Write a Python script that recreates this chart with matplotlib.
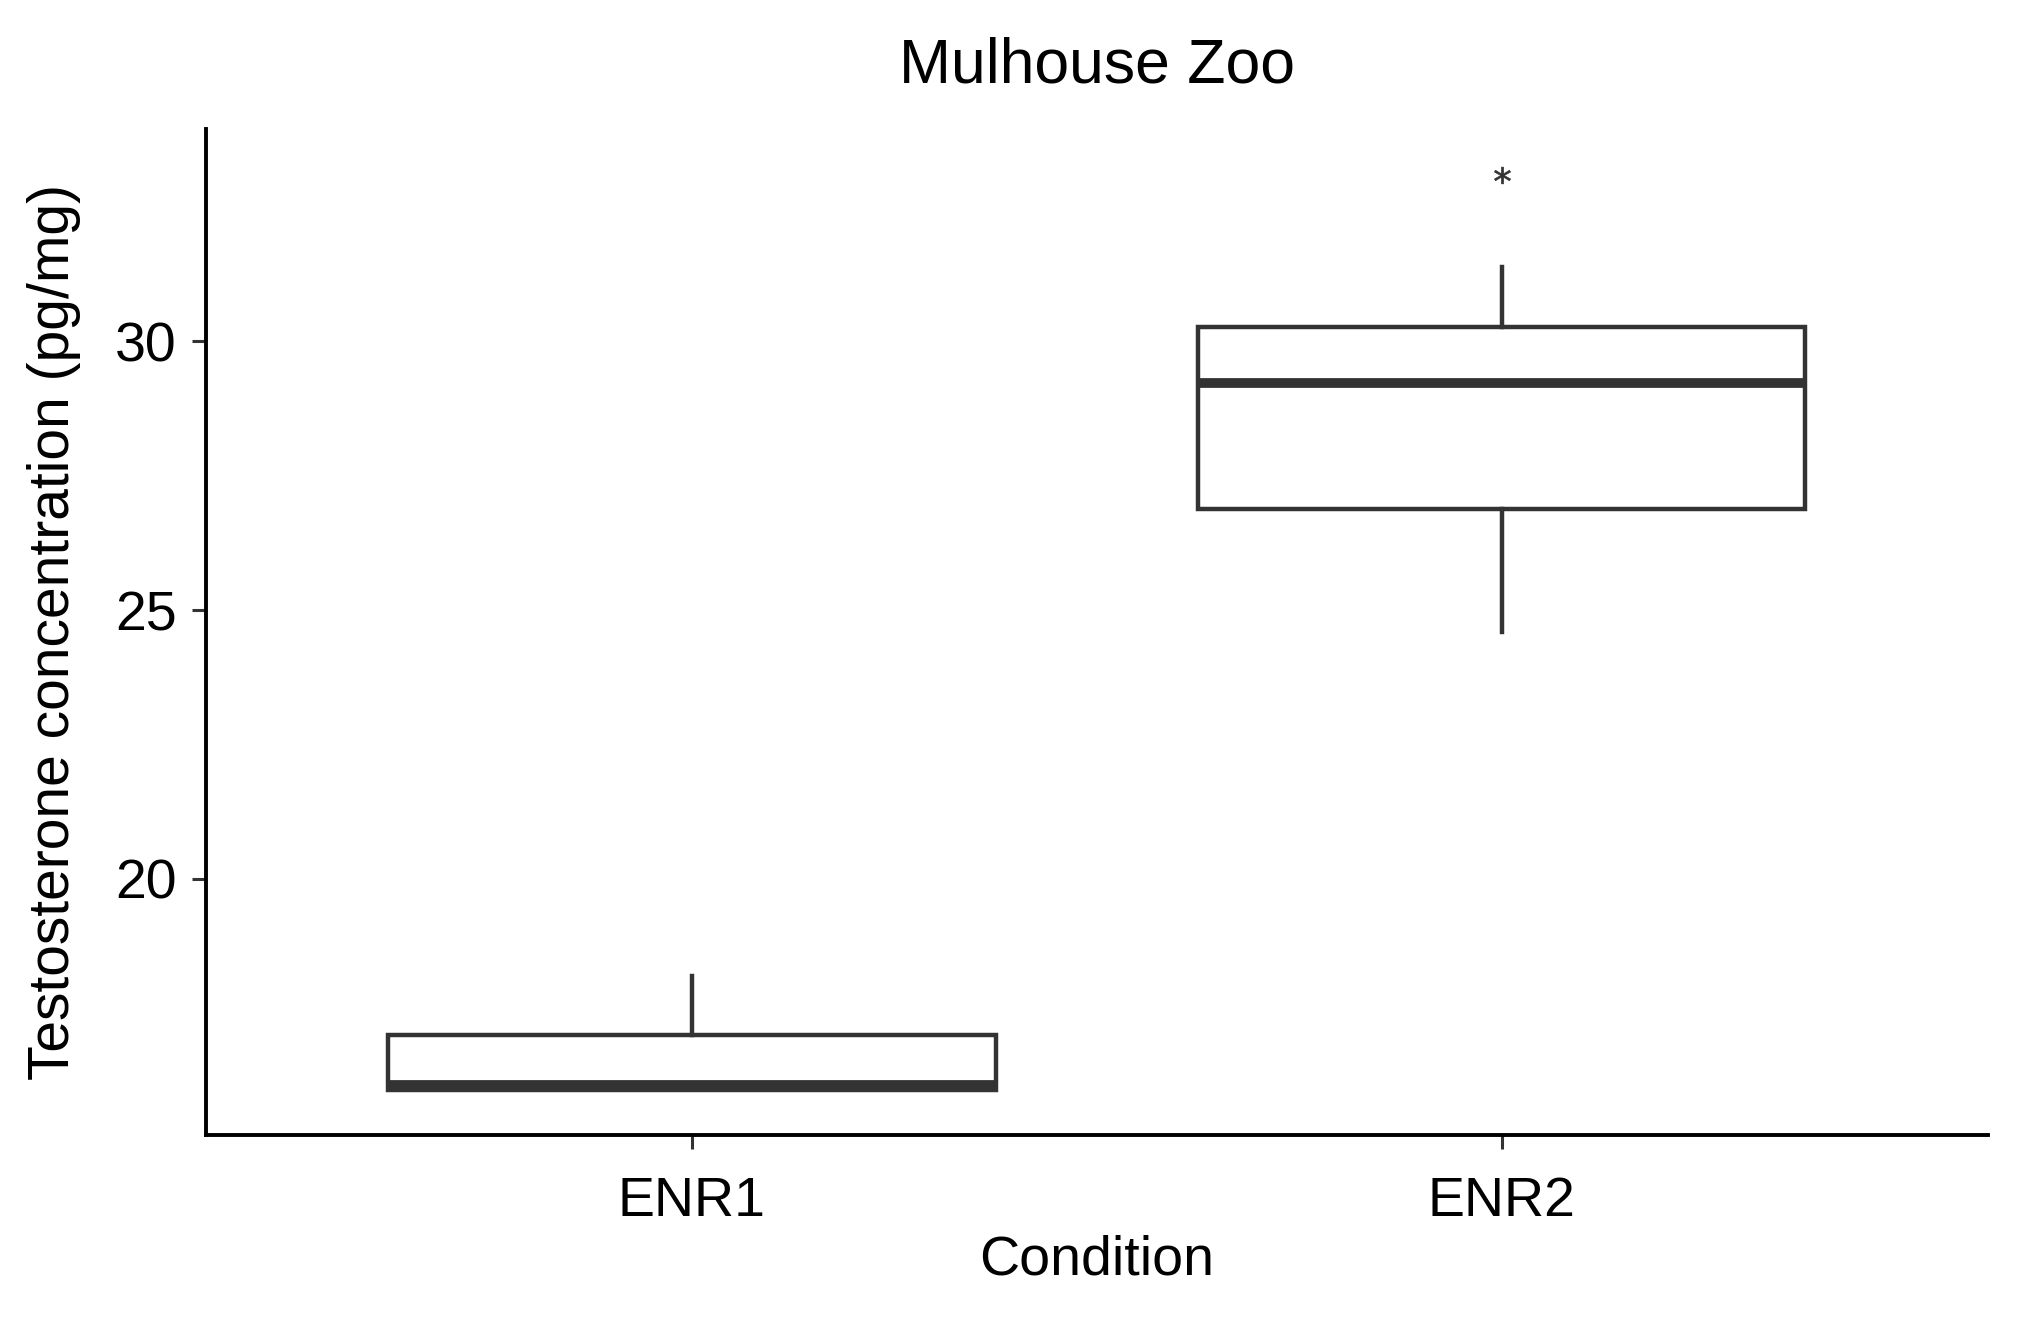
import matplotlib
matplotlib.use("Agg")
import matplotlib.pyplot as plt

# box summary values (pg/mg)
conditions = ["ENR1", "ENR2"]
lower_whisker = [16.08, 24.59]
lower_quartile = [16.08, 26.88]
medians = [16.17, 29.23]
upper_quartile = [17.10, 30.26]
upper_whisker = [18.20, 31.39]
outliers = [[], [33.10]]
y_ticks = [20, 25, 30]

BOX_COLOR = "#333333"

plt.rcParams["font.family"] = ["Liberation Sans", "DejaVu Sans"]

stats = []
for i, name in enumerate(conditions):
    stats.append({
        "label": name,
        "whislo": lower_whisker[i],
        "q1": lower_quartile[i],
        "med": medians[i],
        "q3": upper_quartile[i],
        "whishi": upper_whisker[i],
        "fliers": outliers[i],
    })

fig = plt.figure(figsize=(20.18, 13.17), dpi=100)
ax = fig.add_axes([0.102, 0.138, 0.883, 0.764])

line_w = 3.2
ax.bxp(
    stats,
    positions=[1, 2],
    widths=0.75,
    showcaps=False,
    patch_artist=True,
    boxprops={"facecolor": "white", "edgecolor": BOX_COLOR, "linewidth": line_w},
    whiskerprops={"color": BOX_COLOR, "linewidth": line_w},
    medianprops={"color": BOX_COLOR, "linewidth": line_w * 2.2, "solid_capstyle": "butt"},
    flierprops={"marker": "$*$", "markersize": 12, "markerfacecolor": BOX_COLOR,
                "markeredgecolor": BOX_COLOR, "markeredgewidth": 0.5},
)

ax.set_xlim(0.4, 2.6)
ax.set_ylim(15.23, 33.95)
ax.set_yticks(y_ticks)
ax.set_xticks([1, 2])
ax.set_xticklabels(conditions)

for side in ("top", "right"):
    ax.spines[side].set_visible(False)
for side in ("left", "bottom"):
    ax.spines[side].set_linewidth(2.8)
    ax.spines[side].set_color("black")

ax.tick_params(axis="both", length=10, width=2.2, color=BOX_COLOR, labelsize=40, labelcolor="black")
ax.tick_params(axis="x", pad=19)
ax.tick_params(axis="y", pad=11)

ax.set_xlabel("Condition", fontsize=40)
ax.xaxis.label.set_va("center")
ax.xaxis.set_label_coords(0.5, -0.124)

ax.set_ylabel("Testosterone concentration (pg/mg)", fontsize=41)
ax.yaxis.label.set_va("center")
ax.yaxis.set_label_coords(-0.0853, 0.5)

ax.set_title("Mulhouse Zoo", fontsize=45, y=1.0546, va="center")

fig.savefig("out.png", dpi=100, facecolor="white")
